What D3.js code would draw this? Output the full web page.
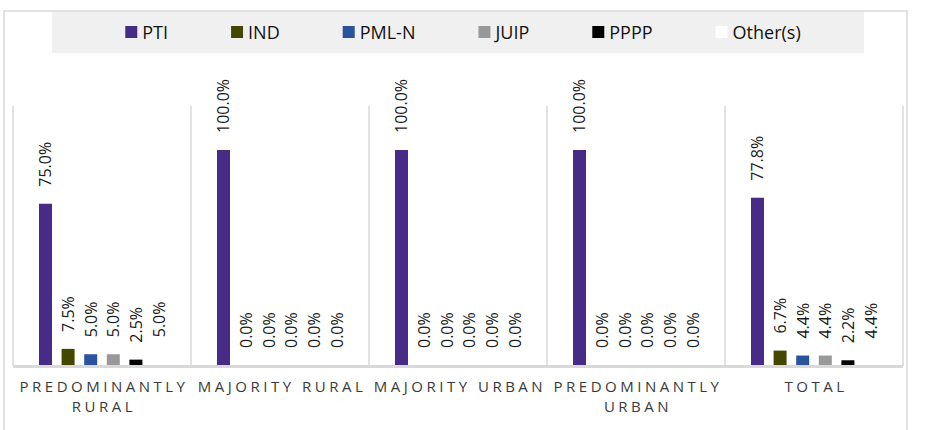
<!DOCTYPE html>
<html>
<head>
<meta charset="utf-8">
<script src="https://cdn.jsdelivr.net/npm/d3@7"></script>
<style>
  html, body { margin: 0; padding: 0; background: #fff; }
  svg { display: block; }
</style>
</head>
<body>
<svg id="chart" width="926" height="430"></svg>
<script>
const categories = ["PREDOMINANTLY RURAL", "MAJORITY RURAL", "MAJORITY URBAN", "PREDOMINANTLY URBAN", "TOTAL"];
const seriesNames = ["PTI", "IND", "PML-N", "JUIP", "PPPP", "Other(s)"];
const seriesColors = ["#482a87", "#434700", "#2a539e", "#999999", "#000000", "#ffffff"];
const valsPTI   = [75.0, 100.0, 100.0, 100.0, 77.8];
const valsIND   = [7.5, 0.0, 0.0, 0.0, 6.7];
const valsPMLN  = [5.0, 0.0, 0.0, 0.0, 4.4];
const valsJUIP  = [5.0, 0.0, 0.0, 0.0, 4.4];
const valsPPPP  = [2.5, 0.0, 0.0, 0.0, 2.2];
const valsOther = [5.0, 0.0, 0.0, 0.0, 4.4];
const seriesValues = [valsPTI, valsIND, valsPMLN, valsJUIP, valsPPPP, valsOther];

const svg = d3.select("#chart");
const plot = { left: 13, right: 903, top: 106, bottom: 365 };

// outer chart border
svg.append("rect").attr("x", 4).attr("y", 11).attr("width", 903).attr("height", 440)
  .attr("fill", "#fff").attr("stroke", "#d9d9d9").attr("stroke-width", 1.5);

// legend background
svg.append("rect").attr("x", 52).attr("y", 12).attr("width", 812).attr("height", 41)
  .attr("fill", "#f0f0f0");

const x0 = d3.scaleBand().domain(categories).range([plot.left, plot.right]).padding(0);
const x1 = d3.scaleBand().domain(seriesNames).range([0, x0.bandwidth()])
  .paddingInner(0.425).paddingOuter(1.15);
const y = d3.scaleLinear().domain([0, 100]).range([plot.bottom, 150]);

// vertical category separators
const seps = categories.map(c => x0(c)).concat([plot.right]);
svg.append("g").selectAll("line").data(seps).join("line")
  .attr("x1", d => d).attr("x2", d => d)
  .attr("y1", plot.top).attr("y2", plot.bottom + 1)
  .attr("stroke", "#d9d9d9").attr("stroke-width", 1.5);

// data table
const rows = [];
categories.forEach((c, ci) => {
  seriesNames.forEach((s, si) => {
    rows.push({ cat: c, series: s, value: seriesValues[si][ci], color: seriesColors[si] });
  });
});

// bars
svg.append("g").selectAll("rect").data(rows).join("rect")
  .attr("x", d => x0(d.cat) + x1(d.series))
  .attr("width", x1.bandwidth())
  .attr("y", d => y(d.value))
  .attr("height", d => y(0) - y(d.value))
  .attr("fill", d => d.color);

// baseline
svg.append("line").attr("x1", plot.left).attr("x2", plot.right)
  .attr("y1", 366.5).attr("y2", 366.5)
  .attr("stroke", "#d9d9d9").attr("stroke-width", 3);

// data labels (rotated)
svg.append("g").selectAll("text").data(rows).join("text")
  .attr("transform", d => {
    const cx = x0(d.cat) + x1(d.series) + x1.bandwidth() / 2 + 6;
    const cy = y(d.value) - 17;
    return `translate(${cx},${cy}) rotate(-90)`;
  })
  .attr("text-anchor", "start")
  .attr("font-family", "'Open Sans', sans-serif")
  .attr("font-size", 16)
  .attr("fill", "#1a1a1a")
  .text(d => d.value.toFixed(1) + "%");

// category labels
const catG = svg.append("g");
categories.forEach(c => {
  const cx = x0(c) + x0.bandwidth() / 2 + 2;
  const t = catG.append("text")
    .attr("x", cx).attr("y", 392)
    .attr("text-anchor", "middle")
    .attr("font-family", "'Open Sans', sans-serif")
    .attr("font-size", 15)
    .attr("letter-spacing", "3.5px")
    .attr("fill", "#3a3a3a");
  const words = c.split(" ");
  t.text(c);
  if (t.node().getComputedTextLength() > x0.bandwidth() - 4 && words.length > 1) {
    t.text(null);
    t.append("tspan").attr("x", cx).attr("dy", 0).text(words[0]);
    t.append("tspan").attr("x", cx).attr("dy", 20).text(words.slice(1).join(" "));
  }
});

// legend
const legG = svg.append("g");
const gap = 63, sq = 12, tgap = 5;
let cursor = 0;
seriesNames.forEach((s, i) => {
  const g = legG.append("g");
  g.append("rect").attr("x", cursor).attr("y", -6).attr("width", sq).attr("height", sq)
    .attr("fill", seriesColors[i]);
  const t = g.append("text").attr("x", cursor + sq + tgap).attr("y", 0)
    .attr("dominant-baseline", "central")
    .attr("font-family", "'Open Sans', sans-serif")
    .attr("font-size", 18)
    .attr("fill", "#111")
    .text(s);
  cursor += sq + tgap + t.node().getComputedTextLength() + gap;
});
const totalW = cursor - gap;
legG.attr("transform", `translate(${463 - totalW / 2},32)`);
</script>
</body>
</html>
